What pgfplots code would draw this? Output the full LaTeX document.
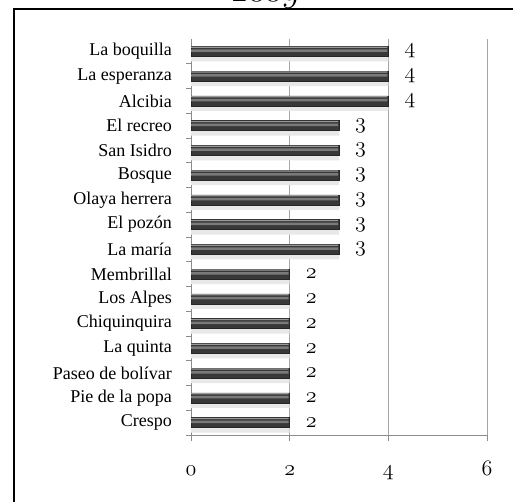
\RequirePackage{fix-cm}
\documentclass[border=0pt]{standalone}
\usepackage{pgfplots}
\pgfplotsset{compat=1.18}
\usepackage{fontspec}
\setmainfont{Liberation Serif}

\begin{document}
\begin{tikzpicture}
% frame and clipped title
\draw[line width=2bp] (13.5bp,-10bp) -- (13.5bp,492.5bp) -- (530bp,492.5bp);
\node[anchor=base, inner sep=0pt] at (265bp,500bp) {\fontsize{34bp}{36bp}\selectfont$\mathnormal{2009}$};

\begin{axis}[
    at={(191bp,67bp)}, anchor=south west,
    scale only axis,
    width=296bp, height=396bp,
    xmin=0, xmax=6, ymin=-0.5, ymax=15.5,
    axis x line*=bottom, axis y line*=left,
    axis line style={-, draw=black!45, line width=0.8bp},
    xtick={0,2,4,6},
    xticklabels={$\mathnormal{0}$,$\mathnormal{2}$,$\mathnormal{4}$,$\mathnormal{6}$},
    xticklabel style={font=\fontsize{22bp}{22bp}\selectfont, anchor=base, inner sep=0pt, yshift=-34bp},
    ytick={0,...,15},
    yticklabels={Crespo,Pie de la popa,Paseo de bolívar,La quinta,Chiquinquira,Los Alpes,Membrillal,La maría,El pozón,Olaya herrera,Bosque,San Isidro,El recreo,Alcibia,La esperanza,La boquilla},
    yticklabel style={font=\fontsize{18bp}{19bp}\selectfont, inner sep=0pt, xshift=-13bp},
    minor ytick={-0.5,0.5,...,14.5},
    tick align=outside,
    major tick length=6bp, minor tick length=5bp,
    tick style={draw=black!45, line width=0.8bp},
    major y tick style={draw=none},
    xmajorgrids,
    major grid style={draw=black!35, line width=0.8bp},
    clip=false,
]
% soft shadow under the bars
\addplot[xbar, bar width=14bp, bar shift=-3bp, fill=black!9, draw=none, forget plot] coordinates {
    (2,0) (2,1) (2,2) (2,3) (2,4) (2,5) (2,6)
    (3,7) (3,8) (3,9) (3,10) (3,11) (3,12)
    (4,13) (4,14) (4,15)
};
% dark body of the bars, with the values
\addplot[xbar, bar width=10bp, bar shift=0pt, fill=black!78, draw=black!85, line width=0.4bp,
    point meta=x,
    nodes near coords={$\mathnormal{\pgfmathprintnumber[assume math mode=true]{\pgfplotspointmeta}}$},
    every node near coord/.append style={anchor=west, inner sep=0pt, xshift=16bp, font=\fontsize{22bp}{22bp}\selectfont, text=black}
] coordinates {
    (2,0) (2,1) (2,2) (2,3) (2,4) (2,5) (2,6)
    (3,7) (3,8) (3,9) (3,10) (3,11) (3,12)
    (4,13) (4,14) (4,15)
};
% highlight band
\addplot[xbar, bar width=2.5bp, bar shift=0.8bp, fill=black!52, draw=none, forget plot] coordinates {
    (1.98,0) (1.98,1) (1.98,2) (1.98,3) (1.98,4) (1.98,5) (1.98,6)
    (2.98,7) (2.98,8) (2.98,9) (2.98,10) (2.98,11) (2.98,12)
    (3.98,13) (3.98,14) (3.98,15)
};
% light top edge
\addplot[xbar, bar width=1.2bp, bar shift=4.2bp, fill=black!40, draw=none, forget plot] coordinates {
    (1.98,0) (1.98,1) (1.98,2) (1.98,3) (1.98,4) (1.98,5) (1.98,6)
    (2.98,7) (2.98,8) (2.98,9) (2.98,10) (2.98,11) (2.98,12)
    (3.98,13) (3.98,14) (3.98,15)
};
\end{axis}
\pgfresetboundingbox
\useasboundingbox (0,0) rectangle (513bp,502bp);
\end{tikzpicture}
\end{document}
